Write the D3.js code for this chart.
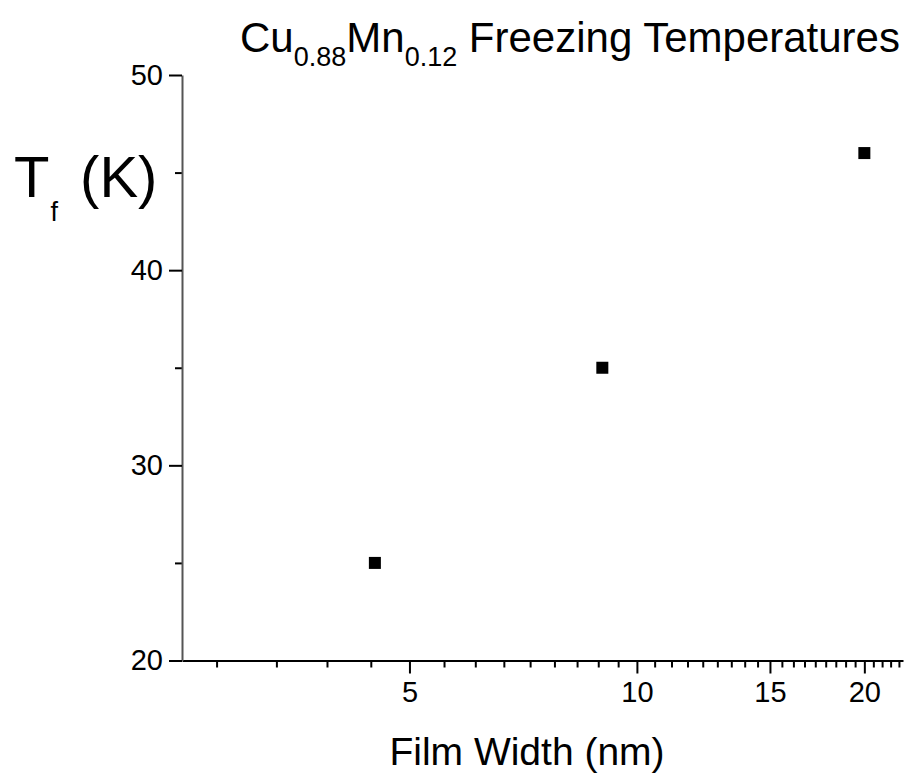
<!DOCTYPE html>
<html>
<head>
<meta charset="utf-8">
<script src="https://cdn.jsdelivr.net/npm/d3@7"></script>
<style>
  body { margin: 0; background: #fff; }
  svg text { font-family: "Liberation Sans", Arial, sans-serif; fill: #000; }
</style>
</head>
<body>
<svg id="chart" width="917" height="779"></svg>
<script>
// film width (nm) vs freezing temperature (K)
var filmWidth = [4.5, 9, 20];
var freezeTemp = [25, 35, 46];

var xMajorTicks = [5, 10, 15, 20];
var yMajorTicks = [20, 30, 40, 50];
var yMinorTicks = [25, 35, 45];

var svg = d3.select("#chart");

var xScale = d3.scaleLog().domain([2.5, 22.5]).range([182, 903]);
var yScale = d3.scaleLinear().domain([20, 50]).range([660.5, 75]);

// minor x ticks: 8 per major interval (origin style, linear spacing)
var xMinorTicks = d3.range(0, 41)
    .filter(function(k){ return k % 9 != 0; })
    .map(function(k){ return k * 5 / 9; })
    .filter(function(v){ return v > 2.5 && v < 22.5; });

//x axis, major + minor
var xMinor = svg.append("g")
    .attr("transform", "translate(0,660.5)")
    .call(d3.axisBottom(xScale).tickValues(xMinorTicks).tickSize(7).tickSizeOuter(0).tickFormat(""));
xMinor.select(".domain").remove();

var xAxis = svg.append("g")
    .attr("transform", "translate(0,660.5)")
    .call(d3.axisBottom(xScale).tickValues(xMajorTicks).tickSize(13).tickSizeOuter(0).tickPadding(8).tickFormat(d3.format("d")));
xAxis.select(".domain").attr("stroke-width", 2);
xAxis.selectAll("text").style("font-size", "29px");

//y axis, major + minor
var yMinor = svg.append("g")
    .attr("transform", "translate(182,0)")
    .call(d3.axisLeft(yScale).tickValues(yMinorTicks).tickSize(7).tickSizeOuter(0).tickFormat(""));
yMinor.select(".domain").remove();

var yAxis = svg.append("g")
    .attr("transform", "translate(182,0)")
    .call(d3.axisLeft(yScale).tickValues(yMajorTicks).tickSize(13).tickSizeOuter(0).tickPadding(6));
yAxis.select(".domain").attr("stroke", "#555").attr("stroke-width", 2);
yAxis.selectAll("text").style("font-size", "29px");

svg.selectAll(".tick line").attr("stroke-width", 2);

//data points
svg.selectAll("rect.pt")
    .data(filmWidth)
    .enter().append("rect")
    .attr("class", "pt")
    .attr("x", function(d){ return xScale(d) - 6; })
    .attr("y", function(d, i){ return yScale(freezeTemp[i]) - 6; })
    .attr("width", 12)
    .attr("height", 12)
    .style("fill", "#000");

//title
var title = svg.append("text")
    .attr("x", 240)
    .attr("y", 52)
    .style("font-size", "42px");
title.append("tspan").text("Cu");
title.append("tspan").attr("dy", 14).style("font-size", "27px").text("0.88");
title.append("tspan").attr("dy", -14).text("Mn");
title.append("tspan").attr("dy", 14).style("font-size", "27px").text("0.12");
title.append("tspan").attr("dy", -14).text(" Freezing Temperatures");

//y label
var yLabel = svg.append("text")
    .attr("x", 14)
    .attr("y", 197)
    .style("font-size", "58px");
yLabel.append("tspan").text("T");
yLabel.append("tspan").attr("dy", 24).attr("dx", 1).style("font-size", "27px").text("f");
yLabel.append("tspan").attr("dy", -24).attr("dx", 6).text(" (K)");

//x label
svg.append("text")
    .attr("x", 527)
    .attr("y", 765)
    .style("text-anchor", "middle")
    .style("font-size", "39px")
    .text("Film Width (nm)");
</script>
</body>
</html>
